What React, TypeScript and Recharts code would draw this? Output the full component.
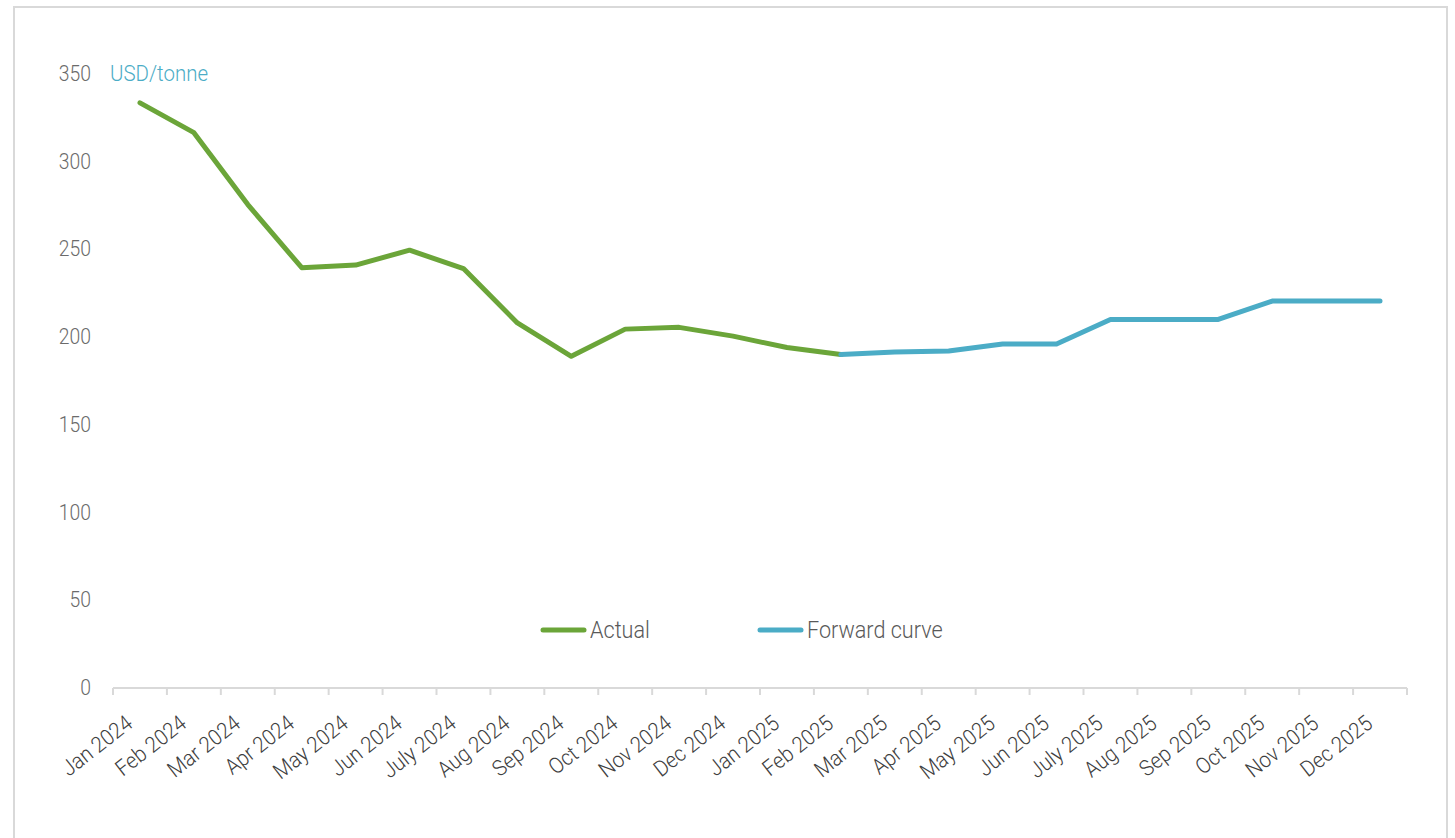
import React from "react";
import { LineChart, Line, XAxis, YAxis, Legend } from "recharts";

// month categories on the x axis
const months = [
  "Jan 2024", "Feb 2024", "Mar 2024", "Apr 2024", "May 2024", "Jun 2024",
  "July 2024", "Aug 2024", "Sep 2024", "Oct 2024", "Nov 2024", "Dec 2024",
  "Jan 2025", "Feb 2025", "Mar 2025", "Apr 2025", "May 2025", "Jun 2025",
  "July 2025", "Aug 2025", "Sep 2025", "Oct 2025", "Nov 2025", "Dec 2025",
];

// Actual: Jan 2024 -> Feb 2025
const actualValues = [333, 316, 275, 239, 240.5, 249, 238.5, 207.5, 188.5, 204, 205, 200, 193.5, 189.5];

// Forward curve: Feb 2025 -> Dec 2025
const forwardStartMonth = "Feb 2025";
const forwardValues = [189.5, 191, 191.5, 195.5, 195.5, 209.5, 209.5, 209.5, 220, 220, 220];

const yTicks = [0, 50, 100, 150, 200, 250, 300, 350];
const unitLabel = "USD/tonne";

const forwardStart = months.indexOf(forwardStartMonth);
const data = months.map((month, i) => ({
  month,
  slot: i + 0.5, // middle of the month's band
  actual: i < actualValues.length ? actualValues[i] : null,
  forward: i >= forwardStart ? forwardValues[i - forwardStart] ?? null : null,
}));

// boundaries between month bands, for the tick marks
const boundaryTicks = months.map((_, i) => i).concat(months.length);

const FONT = "Roboto, 'Noto Sans', sans-serif";
const GREEN = "#6BA539";
const BLUE = "#4BACC6";
const AXIS = "#D9D9D9";

// the source font is a narrow one, so squeeze Roboto a little
const MonthTick = ({ x, y, payload }: any) => {
  const ax = x - 6;
  const ay = y + 39;
  return (
    <text
      transform={`translate(${ax}, ${ay}) rotate(-38) scale(0.92, 1)`}
      textAnchor="end"
      fill="#404040"
      fontSize={22}
      fontFamily={FONT}
      fontWeight={300}
    >
      {payload.value}
    </text>
  );
};

const ValueTick = ({ x, y, payload }: any) => (
  <text
    transform={`translate(${x}, ${y}) scale(0.88, 1)`}
    dy="0.36em"
    textAnchor="end"
    fill="#6B6B6B"
    fontSize={22}
    fontFamily={FONT}
    fontWeight={300}
  >
    {payload.value}
  </text>
);

const NoTick = () => <g />;

const renderLegend = (props: any) => {
  const { payload = [] } = props;
  return (
    <div style={{ display: "flex", alignItems: "center", height: 30 }}>
      {payload.map((entry: any, idx: number) => (
        <div
          key={idx}
          style={{ display: "flex", alignItems: "center", width: 217, fontFamily: FONT, fontWeight: 300, fontSize: 24, color: "#595959" }}
        >
          <svg width={47} height={8} style={{ marginRight: 3 }}>
            <line x1={3} y1={4} x2={44} y2={4} stroke={entry.color} strokeWidth={5} strokeLinecap="round" />
          </svg>
          <span style={{ display: "inline-block", transform: "scaleX(0.9)", transformOrigin: "left center", whiteSpace: "nowrap" }}>
            {entry.value}
          </span>
        </div>
      ))}
    </div>
  );
};

export default function App() {
  return (
    <div style={{ position: "fixed", left: 0, top: 0, width: 1455, height: 838, overflow: "hidden", background: "#fff" }}>
      <div
        style={{
          position: "absolute",
          left: 13,
          top: 6,
          width: 1431,
          height: 900,
          border: `2px solid ${AXIS}`,
        }}
      />
      <div style={{ position: "absolute", left: 0, top: 0 }}>
        <LineChart width={1455} height={838} data={data} margin={{ top: 73, right: 48, bottom: 149, left: 0 }}>
          <XAxis
            xAxisId="grid"
            type="number"
            dataKey="slot"
            domain={[0, months.length]}
            ticks={boundaryTicks}
            interval={0}
            allowDataOverflow
            tick={<NoTick />}
            tickSize={7}
            tickLine={{ stroke: AXIS, strokeWidth: 2 }}
            axisLine={{ stroke: AXIS, strokeWidth: 2 }}
            height={1}
          />
          <XAxis
            xAxisId="cat"
            dataKey="month"
            interval={0}
            padding={{ left: 27, right: 27 }}
            axisLine={false}
            tickLine={false}
            tickSize={0}
            tickMargin={0}
            tick={<MonthTick />}
            height={1}
          />
          <YAxis
            width={113}
            domain={[0, 350]}
            ticks={yTicks}
            axisLine={false}
            tickLine={false}
            tickSize={0}
            tickMargin={22}
            tick={<ValueTick />}
            label={{
              content: (p: any) => (
                <text
                  transform={`translate(${p.viewBox.x + p.viewBox.width - 3}, ${p.viewBox.y + 8}) scale(0.93, 1)`}
                  fill={BLUE}
                  fontSize={22}
                  fontFamily={FONT}
                  fontWeight={300}
                >
                  {unitLabel}
                </text>
              ),
            }}
          />
          <Legend
            layout="horizontal"
            verticalAlign="middle"
            align="center"
            content={renderLegend}
            wrapperStyle={{ left: 540, top: 615, width: 500 }}
          />
          <Line
            xAxisId="cat"
            type="linear"
            dataKey="actual"
            name="Actual"
            stroke={GREEN}
            strokeWidth={5}
            strokeLinecap="round"
            strokeLinejoin="round"
            dot={false}
            activeDot={false}
            isAnimationActive={false}
          />
          <Line
            xAxisId="cat"
            type="linear"
            dataKey="forward"
            name="Forward curve"
            stroke={BLUE}
            strokeWidth={5}
            strokeLinecap="round"
            strokeLinejoin="round"
            dot={false}
            activeDot={false}
            isAnimationActive={false}
          />
        </LineChart>
      </div>
    </div>
  );
}
